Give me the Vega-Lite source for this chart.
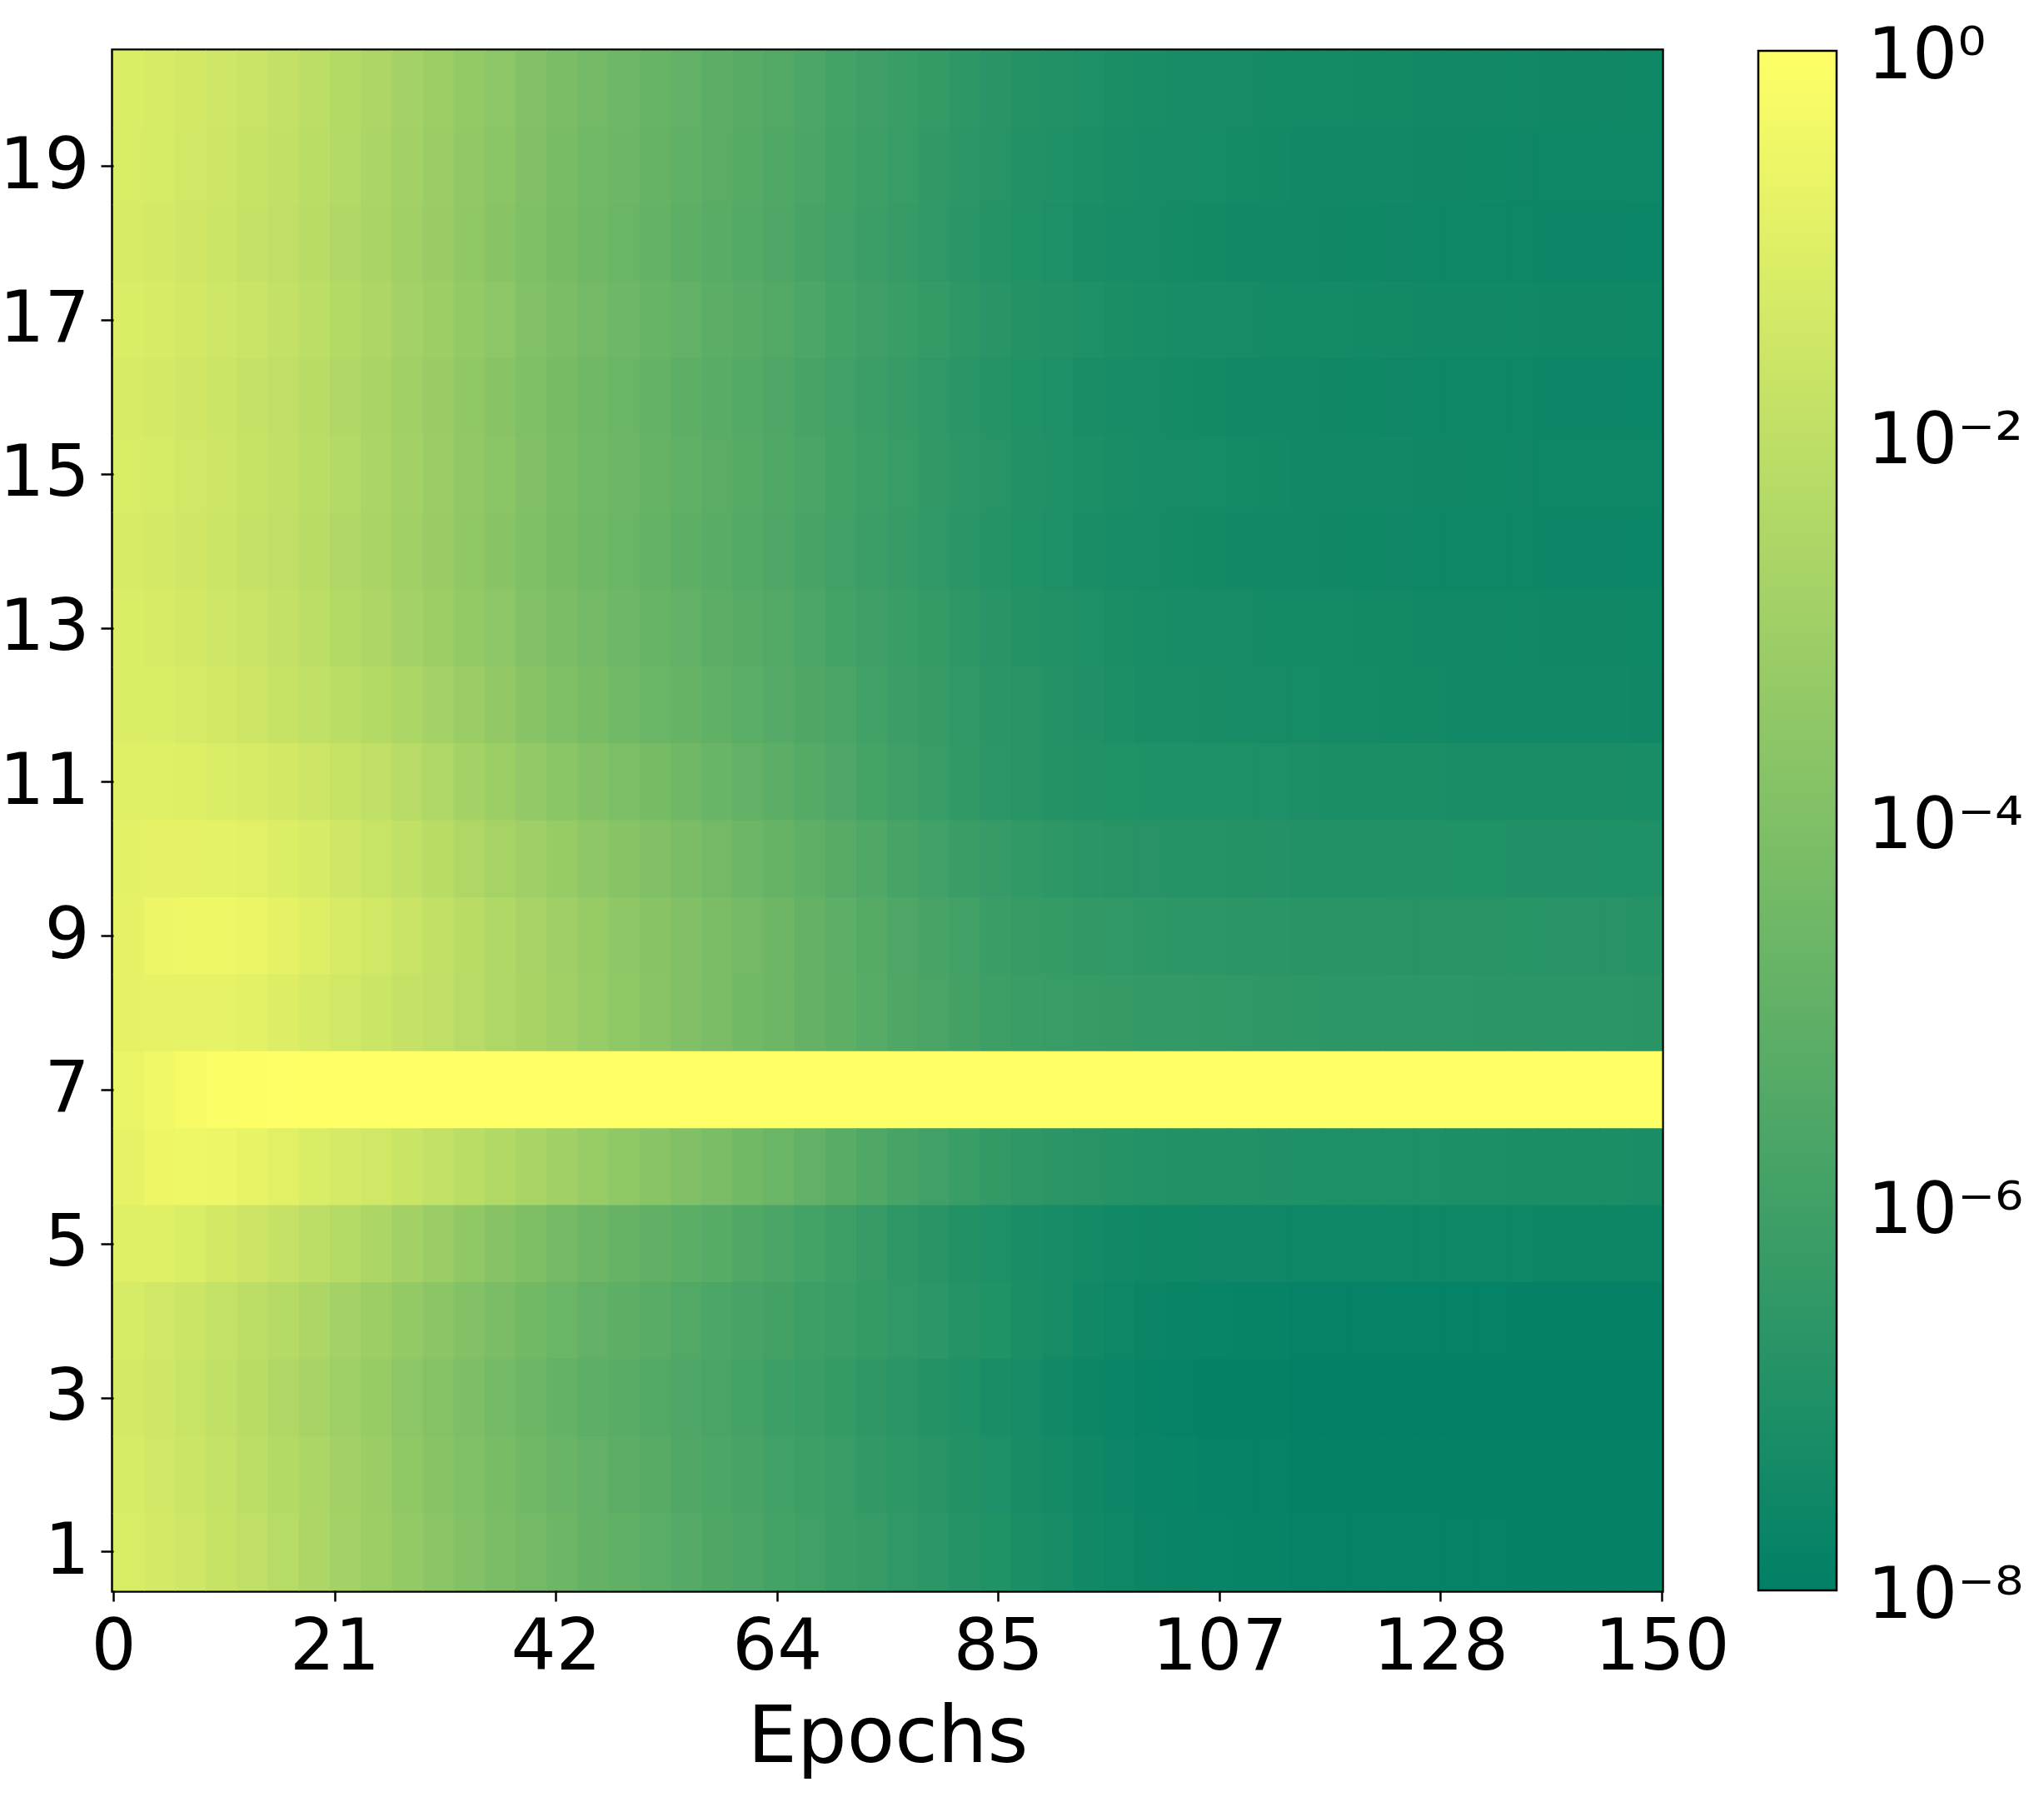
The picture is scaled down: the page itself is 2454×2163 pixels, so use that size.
{
"$schema": "https://vega.github.io/schema/vega-lite/v6.json",
"autosize": {"type": "none"},
"padding": {"left": 136, "top": 61, "right": 459, "bottom": 254},
"width": 1859,
"height": 1848,
"background": "white",
"config": {"font": "DejaVu Sans", "view": {"stroke": "#000", "strokeWidth": 5.5}},
"datasets": {"loss": [
{"c":20,"e":0,"v":-1.14},{"c":20,"e":3,"v":-1.23},{"c":20,"e":6,"v":-1.37},{"c":20,"e":9,"v":-1.52},{"c":20,"e":12,"v":-1.7},{"c":20,"e":15,"v":-1.9},{"c":20,"e":18,"v":-2.11},{"c":20,"e":21,"v":-2.34},{"c":20,"e":24,"v":-2.58},{"c":20,"e":27,"v":-2.82},{"c":20,"e":30,"v":-3.08},{"c":20,"e":33,"v":-3.35},{"c":20,"e":36,"v":-3.62},{"c":20,"e":39,"v":-3.89},{"c":20,"e":42,"v":-4.16},{"c":20,"e":45,"v":-4.38},{"c":20,"e":48,"v":-4.56},{"c":20,"e":51,"v":-4.74},{"c":20,"e":54,"v":-4.92},{"c":20,"e":57,"v":-5.1},{"c":20,"e":60,"v":-5.28},{"c":20,"e":63,"v":-5.44},{"c":20,"e":66,"v":-5.63},{"c":20,"e":69,"v":-5.84},{"c":20,"e":72,"v":-6.02},{"c":20,"e":75,"v":-6.2},{"c":20,"e":78,"v":-6.38},{"c":20,"e":81,"v":-6.55},{"c":20,"e":84,"v":-6.7},{"c":20,"e":87,"v":-6.84},{"c":20,"e":90,"v":-6.94},{"c":20,"e":93,"v":-7.03},{"c":20,"e":96,"v":-7.12},{"c":20,"e":99,"v":-7.2},{"c":20,"e":102,"v":-7.24},{"c":20,"e":105,"v":-7.27},{"c":20,"e":108,"v":-7.31},{"c":20,"e":111,"v":-7.34},{"c":20,"e":114,"v":-7.36},{"c":20,"e":117,"v":-7.38},{"c":20,"e":120,"v":-7.4},{"c":20,"e":123,"v":-7.41},{"c":20,"e":126,"v":-7.43},{"c":20,"e":129,"v":-7.44},{"c":20,"e":132,"v":-7.46},{"c":20,"e":135,"v":-7.47},{"c":20,"e":138,"v":-7.49},{"c":20,"e":141,"v":-7.5},{"c":20,"e":144,"v":-7.51},{"c":20,"e":147,"v":-7.52},
{"c":19,"e":0,"v":-1.2},{"c":19,"e":3,"v":-1.29},{"c":19,"e":6,"v":-1.43},{"c":19,"e":9,"v":-1.58},{"c":19,"e":12,"v":-1.76},{"c":19,"e":15,"v":-1.96},{"c":19,"e":18,"v":-2.17},{"c":19,"e":21,"v":-2.4},{"c":19,"e":24,"v":-2.64},{"c":19,"e":27,"v":-2.88},{"c":19,"e":30,"v":-3.14},{"c":19,"e":33,"v":-3.41},{"c":19,"e":36,"v":-3.68},{"c":19,"e":39,"v":-3.95},{"c":19,"e":42,"v":-4.22},{"c":19,"e":45,"v":-4.44},{"c":19,"e":48,"v":-4.62},{"c":19,"e":51,"v":-4.8},{"c":19,"e":54,"v":-4.98},{"c":19,"e":57,"v":-5.16},{"c":19,"e":60,"v":-5.34},{"c":19,"e":63,"v":-5.5},{"c":19,"e":66,"v":-5.69},{"c":19,"e":69,"v":-5.9},{"c":19,"e":72,"v":-6.08},{"c":19,"e":75,"v":-6.26},{"c":19,"e":78,"v":-6.44},{"c":19,"e":81,"v":-6.61},{"c":19,"e":84,"v":-6.76},{"c":19,"e":87,"v":-6.9},{"c":19,"e":90,"v":-7.0},{"c":19,"e":93,"v":-7.09},{"c":19,"e":96,"v":-7.18},{"c":19,"e":99,"v":-7.26},{"c":19,"e":102,"v":-7.3},{"c":19,"e":105,"v":-7.33},{"c":19,"e":108,"v":-7.37},{"c":19,"e":111,"v":-7.4},{"c":19,"e":114,"v":-7.42},{"c":19,"e":117,"v":-7.44},{"c":19,"e":120,"v":-7.46},{"c":19,"e":123,"v":-7.47},{"c":19,"e":126,"v":-7.49},{"c":19,"e":129,"v":-7.5},{"c":19,"e":132,"v":-7.52},{"c":19,"e":135,"v":-7.53},{"c":19,"e":138,"v":-7.55},{"c":19,"e":141,"v":-7.56},{"c":19,"e":144,"v":-7.57},{"c":19,"e":147,"v":-7.58},
{"c":18,"e":0,"v":-1.26},{"c":18,"e":3,"v":-1.35},{"c":18,"e":6,"v":-1.49},{"c":18,"e":9,"v":-1.64},{"c":18,"e":12,"v":-1.82},{"c":18,"e":15,"v":-2.02},{"c":18,"e":18,"v":-2.23},{"c":18,"e":21,"v":-2.46},{"c":18,"e":24,"v":-2.7},{"c":18,"e":27,"v":-2.94},{"c":18,"e":30,"v":-3.2},{"c":18,"e":33,"v":-3.47},{"c":18,"e":36,"v":-3.74},{"c":18,"e":39,"v":-4.01},{"c":18,"e":42,"v":-4.28},{"c":18,"e":45,"v":-4.5},{"c":18,"e":48,"v":-4.68},{"c":18,"e":51,"v":-4.86},{"c":18,"e":54,"v":-5.04},{"c":18,"e":57,"v":-5.22},{"c":18,"e":60,"v":-5.4},{"c":18,"e":63,"v":-5.56},{"c":18,"e":66,"v":-5.75},{"c":18,"e":69,"v":-5.96},{"c":18,"e":72,"v":-6.14},{"c":18,"e":75,"v":-6.32},{"c":18,"e":78,"v":-6.5},{"c":18,"e":81,"v":-6.67},{"c":18,"e":84,"v":-6.82},{"c":18,"e":87,"v":-6.96},{"c":18,"e":90,"v":-7.06},{"c":18,"e":93,"v":-7.15},{"c":18,"e":96,"v":-7.24},{"c":18,"e":99,"v":-7.32},{"c":18,"e":102,"v":-7.36},{"c":18,"e":105,"v":-7.39},{"c":18,"e":108,"v":-7.43},{"c":18,"e":111,"v":-7.46},{"c":18,"e":114,"v":-7.48},{"c":18,"e":117,"v":-7.5},{"c":18,"e":120,"v":-7.52},{"c":18,"e":123,"v":-7.53},{"c":18,"e":126,"v":-7.55},{"c":18,"e":129,"v":-7.56},{"c":18,"e":132,"v":-7.58},{"c":18,"e":135,"v":-7.59},{"c":18,"e":138,"v":-7.61},{"c":18,"e":141,"v":-7.62},{"c":18,"e":144,"v":-7.63},{"c":18,"e":147,"v":-7.64},
{"c":17,"e":0,"v":-1.14},{"c":17,"e":3,"v":-1.23},{"c":17,"e":6,"v":-1.37},{"c":17,"e":9,"v":-1.52},{"c":17,"e":12,"v":-1.7},{"c":17,"e":15,"v":-1.9},{"c":17,"e":18,"v":-2.11},{"c":17,"e":21,"v":-2.34},{"c":17,"e":24,"v":-2.58},{"c":17,"e":27,"v":-2.82},{"c":17,"e":30,"v":-3.08},{"c":17,"e":33,"v":-3.35},{"c":17,"e":36,"v":-3.62},{"c":17,"e":39,"v":-3.89},{"c":17,"e":42,"v":-4.16},{"c":17,"e":45,"v":-4.38},{"c":17,"e":48,"v":-4.56},{"c":17,"e":51,"v":-4.74},{"c":17,"e":54,"v":-4.92},{"c":17,"e":57,"v":-5.1},{"c":17,"e":60,"v":-5.28},{"c":17,"e":63,"v":-5.44},{"c":17,"e":66,"v":-5.63},{"c":17,"e":69,"v":-5.84},{"c":17,"e":72,"v":-6.02},{"c":17,"e":75,"v":-6.2},{"c":17,"e":78,"v":-6.38},{"c":17,"e":81,"v":-6.55},{"c":17,"e":84,"v":-6.7},{"c":17,"e":87,"v":-6.84},{"c":17,"e":90,"v":-6.94},{"c":17,"e":93,"v":-7.03},{"c":17,"e":96,"v":-7.12},{"c":17,"e":99,"v":-7.2},{"c":17,"e":102,"v":-7.24},{"c":17,"e":105,"v":-7.27},{"c":17,"e":108,"v":-7.31},{"c":17,"e":111,"v":-7.34},{"c":17,"e":114,"v":-7.36},{"c":17,"e":117,"v":-7.38},{"c":17,"e":120,"v":-7.4},{"c":17,"e":123,"v":-7.41},{"c":17,"e":126,"v":-7.43},{"c":17,"e":129,"v":-7.44},{"c":17,"e":132,"v":-7.46},{"c":17,"e":135,"v":-7.47},{"c":17,"e":138,"v":-7.49},{"c":17,"e":141,"v":-7.5},{"c":17,"e":144,"v":-7.51},{"c":17,"e":147,"v":-7.52},
{"c":16,"e":0,"v":-1.26},{"c":16,"e":3,"v":-1.35},{"c":16,"e":6,"v":-1.49},{"c":16,"e":9,"v":-1.64},{"c":16,"e":12,"v":-1.82},{"c":16,"e":15,"v":-2.02},{"c":16,"e":18,"v":-2.23},{"c":16,"e":21,"v":-2.46},{"c":16,"e":24,"v":-2.7},{"c":16,"e":27,"v":-2.94},{"c":16,"e":30,"v":-3.2},{"c":16,"e":33,"v":-3.47},{"c":16,"e":36,"v":-3.74},{"c":16,"e":39,"v":-4.01},{"c":16,"e":42,"v":-4.28},{"c":16,"e":45,"v":-4.5},{"c":16,"e":48,"v":-4.68},{"c":16,"e":51,"v":-4.86},{"c":16,"e":54,"v":-5.04},{"c":16,"e":57,"v":-5.22},{"c":16,"e":60,"v":-5.4},{"c":16,"e":63,"v":-5.56},{"c":16,"e":66,"v":-5.75},{"c":16,"e":69,"v":-5.96},{"c":16,"e":72,"v":-6.14},{"c":16,"e":75,"v":-6.32},{"c":16,"e":78,"v":-6.5},{"c":16,"e":81,"v":-6.67},{"c":16,"e":84,"v":-6.82},{"c":16,"e":87,"v":-6.96},{"c":16,"e":90,"v":-7.06},{"c":16,"e":93,"v":-7.15},{"c":16,"e":96,"v":-7.24},{"c":16,"e":99,"v":-7.32},{"c":16,"e":102,"v":-7.36},{"c":16,"e":105,"v":-7.39},{"c":16,"e":108,"v":-7.43},{"c":16,"e":111,"v":-7.46},{"c":16,"e":114,"v":-7.48},{"c":16,"e":117,"v":-7.5},{"c":16,"e":120,"v":-7.52},{"c":16,"e":123,"v":-7.53},{"c":16,"e":126,"v":-7.55},{"c":16,"e":129,"v":-7.56},{"c":16,"e":132,"v":-7.58},{"c":16,"e":135,"v":-7.59},{"c":16,"e":138,"v":-7.61},{"c":16,"e":141,"v":-7.62},{"c":16,"e":144,"v":-7.63},{"c":16,"e":147,"v":-7.64},
{"c":15,"e":0,"v":-1.2},{"c":15,"e":3,"v":-1.29},{"c":15,"e":6,"v":-1.43},{"c":15,"e":9,"v":-1.58},{"c":15,"e":12,"v":-1.76},{"c":15,"e":15,"v":-1.96},{"c":15,"e":18,"v":-2.17},{"c":15,"e":21,"v":-2.4},{"c":15,"e":24,"v":-2.64},{"c":15,"e":27,"v":-2.88},{"c":15,"e":30,"v":-3.14},{"c":15,"e":33,"v":-3.41},{"c":15,"e":36,"v":-3.68},{"c":15,"e":39,"v":-3.95},{"c":15,"e":42,"v":-4.22},{"c":15,"e":45,"v":-4.44},{"c":15,"e":48,"v":-4.62},{"c":15,"e":51,"v":-4.8},{"c":15,"e":54,"v":-4.98},{"c":15,"e":57,"v":-5.16},{"c":15,"e":60,"v":-5.34},{"c":15,"e":63,"v":-5.5},{"c":15,"e":66,"v":-5.69},{"c":15,"e":69,"v":-5.9},{"c":15,"e":72,"v":-6.08},{"c":15,"e":75,"v":-6.26},{"c":15,"e":78,"v":-6.44},{"c":15,"e":81,"v":-6.61},{"c":15,"e":84,"v":-6.76},{"c":15,"e":87,"v":-6.9},{"c":15,"e":90,"v":-7.0},{"c":15,"e":93,"v":-7.09},{"c":15,"e":96,"v":-7.18},{"c":15,"e":99,"v":-7.26},{"c":15,"e":102,"v":-7.3},{"c":15,"e":105,"v":-7.33},{"c":15,"e":108,"v":-7.37},{"c":15,"e":111,"v":-7.4},{"c":15,"e":114,"v":-7.42},{"c":15,"e":117,"v":-7.44},{"c":15,"e":120,"v":-7.46},{"c":15,"e":123,"v":-7.47},{"c":15,"e":126,"v":-7.49},{"c":15,"e":129,"v":-7.5},{"c":15,"e":132,"v":-7.52},{"c":15,"e":135,"v":-7.53},{"c":15,"e":138,"v":-7.55},{"c":15,"e":141,"v":-7.56},{"c":15,"e":144,"v":-7.57},{"c":15,"e":147,"v":-7.58},
{"c":14,"e":0,"v":-1.26},{"c":14,"e":3,"v":-1.35},{"c":14,"e":6,"v":-1.49},{"c":14,"e":9,"v":-1.64},{"c":14,"e":12,"v":-1.82},{"c":14,"e":15,"v":-2.02},{"c":14,"e":18,"v":-2.23},{"c":14,"e":21,"v":-2.46},{"c":14,"e":24,"v":-2.7},{"c":14,"e":27,"v":-2.94},{"c":14,"e":30,"v":-3.2},{"c":14,"e":33,"v":-3.47},{"c":14,"e":36,"v":-3.74},{"c":14,"e":39,"v":-4.01},{"c":14,"e":42,"v":-4.28},{"c":14,"e":45,"v":-4.5},{"c":14,"e":48,"v":-4.68},{"c":14,"e":51,"v":-4.86},{"c":14,"e":54,"v":-5.04},{"c":14,"e":57,"v":-5.22},{"c":14,"e":60,"v":-5.4},{"c":14,"e":63,"v":-5.56},{"c":14,"e":66,"v":-5.75},{"c":14,"e":69,"v":-5.96},{"c":14,"e":72,"v":-6.14},{"c":14,"e":75,"v":-6.32},{"c":14,"e":78,"v":-6.5},{"c":14,"e":81,"v":-6.67},{"c":14,"e":84,"v":-6.82},{"c":14,"e":87,"v":-6.96},{"c":14,"e":90,"v":-7.06},{"c":14,"e":93,"v":-7.15},{"c":14,"e":96,"v":-7.24},{"c":14,"e":99,"v":-7.32},{"c":14,"e":102,"v":-7.36},{"c":14,"e":105,"v":-7.39},{"c":14,"e":108,"v":-7.43},{"c":14,"e":111,"v":-7.46},{"c":14,"e":114,"v":-7.48},{"c":14,"e":117,"v":-7.5},{"c":14,"e":120,"v":-7.52},{"c":14,"e":123,"v":-7.53},{"c":14,"e":126,"v":-7.55},{"c":14,"e":129,"v":-7.56},{"c":14,"e":132,"v":-7.58},{"c":14,"e":135,"v":-7.59},{"c":14,"e":138,"v":-7.61},{"c":14,"e":141,"v":-7.62},{"c":14,"e":144,"v":-7.63},{"c":14,"e":147,"v":-7.64},
{"c":13,"e":0,"v":-1.14},{"c":13,"e":3,"v":-1.23},{"c":13,"e":6,"v":-1.37},{"c":13,"e":9,"v":-1.52},{"c":13,"e":12,"v":-1.7},{"c":13,"e":15,"v":-1.9},{"c":13,"e":18,"v":-2.11},{"c":13,"e":21,"v":-2.34},{"c":13,"e":24,"v":-2.58},{"c":13,"e":27,"v":-2.82},{"c":13,"e":30,"v":-3.08},{"c":13,"e":33,"v":-3.35},{"c":13,"e":36,"v":-3.62},{"c":13,"e":39,"v":-3.89},{"c":13,"e":42,"v":-4.16},{"c":13,"e":45,"v":-4.38},{"c":13,"e":48,"v":-4.56},{"c":13,"e":51,"v":-4.74},{"c":13,"e":54,"v":-4.92},{"c":13,"e":57,"v":-5.1},{"c":13,"e":60,"v":-5.28},{"c":13,"e":63,"v":-5.44},{"c":13,"e":66,"v":-5.63},{"c":13,"e":69,"v":-5.84},{"c":13,"e":72,"v":-6.02},{"c":13,"e":75,"v":-6.2},{"c":13,"e":78,"v":-6.38},{"c":13,"e":81,"v":-6.55},{"c":13,"e":84,"v":-6.7},{"c":13,"e":87,"v":-6.84},{"c":13,"e":90,"v":-6.94},{"c":13,"e":93,"v":-7.03},{"c":13,"e":96,"v":-7.12},{"c":13,"e":99,"v":-7.2},{"c":13,"e":102,"v":-7.24},{"c":13,"e":105,"v":-7.27},{"c":13,"e":108,"v":-7.31},{"c":13,"e":111,"v":-7.34},{"c":13,"e":114,"v":-7.36},{"c":13,"e":117,"v":-7.38},{"c":13,"e":120,"v":-7.4},{"c":13,"e":123,"v":-7.41},{"c":13,"e":126,"v":-7.43},{"c":13,"e":129,"v":-7.44},{"c":13,"e":132,"v":-7.46},{"c":13,"e":135,"v":-7.47},{"c":13,"e":138,"v":-7.49},{"c":13,"e":141,"v":-7.5},{"c":13,"e":144,"v":-7.51},{"c":13,"e":147,"v":-7.52},
{"c":12,"e":0,"v":-1.12},{"c":12,"e":3,"v":-1.15},{"c":12,"e":6,"v":-1.25},{"c":12,"e":9,"v":-1.38},{"c":12,"e":12,"v":-1.56},{"c":12,"e":15,"v":-1.75},{"c":12,"e":18,"v":-1.95},{"c":12,"e":21,"v":-2.15},{"c":12,"e":24,"v":-2.36},{"c":12,"e":27,"v":-2.59},{"c":12,"e":30,"v":-2.84},{"c":12,"e":33,"v":-3.13},{"c":12,"e":36,"v":-3.43},{"c":12,"e":39,"v":-3.72},{"c":12,"e":42,"v":-4.01},{"c":12,"e":45,"v":-4.25},{"c":12,"e":48,"v":-4.44},{"c":12,"e":51,"v":-4.63},{"c":12,"e":54,"v":-4.81},{"c":12,"e":57,"v":-5.0},{"c":12,"e":60,"v":-5.19},{"c":12,"e":63,"v":-5.35},{"c":12,"e":66,"v":-5.53},{"c":12,"e":69,"v":-5.72},{"c":12,"e":72,"v":-5.92},{"c":12,"e":75,"v":-6.12},{"c":12,"e":78,"v":-6.32},{"c":12,"e":81,"v":-6.5},{"c":12,"e":84,"v":-6.65},{"c":12,"e":87,"v":-6.76},{"c":12,"e":90,"v":-6.86},{"c":12,"e":93,"v":-6.98},{"c":12,"e":96,"v":-7.08},{"c":12,"e":99,"v":-7.16},{"c":12,"e":102,"v":-7.19},{"c":12,"e":105,"v":-7.23},{"c":12,"e":108,"v":-7.26},{"c":12,"e":111,"v":-7.3},{"c":12,"e":114,"v":-7.33},{"c":12,"e":117,"v":-7.36},{"c":12,"e":120,"v":-7.38},{"c":12,"e":123,"v":-7.39},{"c":12,"e":126,"v":-7.41},{"c":12,"e":129,"v":-7.42},{"c":12,"e":132,"v":-7.43},{"c":12,"e":135,"v":-7.45},{"c":12,"e":138,"v":-7.46},{"c":12,"e":141,"v":-7.47},{"c":12,"e":144,"v":-7.48},{"c":12,"e":147,"v":-7.49},
{"c":11,"e":0,"v":-0.99},{"c":11,"e":3,"v":-0.96},{"c":11,"e":6,"v":-1.03},{"c":11,"e":9,"v":-1.12},{"c":11,"e":12,"v":-1.24},{"c":11,"e":15,"v":-1.39},{"c":11,"e":18,"v":-1.57},{"c":11,"e":21,"v":-1.79},{"c":11,"e":24,"v":-2.02},{"c":11,"e":27,"v":-2.27},{"c":11,"e":30,"v":-2.54},{"c":11,"e":33,"v":-2.82},{"c":11,"e":36,"v":-3.1},{"c":11,"e":39,"v":-3.38},{"c":11,"e":42,"v":-3.66},{"c":11,"e":45,"v":-3.9},{"c":11,"e":48,"v":-4.1},{"c":11,"e":51,"v":-4.3},{"c":11,"e":54,"v":-4.5},{"c":11,"e":57,"v":-4.7},{"c":11,"e":60,"v":-4.91},{"c":11,"e":63,"v":-5.11},{"c":11,"e":66,"v":-5.33},{"c":11,"e":69,"v":-5.56},{"c":11,"e":72,"v":-5.8},{"c":11,"e":75,"v":-6.03},{"c":11,"e":78,"v":-6.25},{"c":11,"e":81,"v":-6.45},{"c":11,"e":84,"v":-6.62},{"c":11,"e":87,"v":-6.75},{"c":11,"e":90,"v":-6.84},{"c":11,"e":93,"v":-6.91},{"c":11,"e":96,"v":-6.96},{"c":11,"e":99,"v":-7.0},{"c":11,"e":102,"v":-7.01},{"c":11,"e":105,"v":-7.02},{"c":11,"e":108,"v":-7.03},{"c":11,"e":111,"v":-7.07},{"c":11,"e":114,"v":-7.1},{"c":11,"e":117,"v":-7.11},{"c":11,"e":120,"v":-7.12},{"c":11,"e":123,"v":-7.13},{"c":11,"e":126,"v":-7.14},{"c":11,"e":129,"v":-7.15},{"c":11,"e":132,"v":-7.16},{"c":11,"e":135,"v":-7.17},{"c":11,"e":138,"v":-7.18},{"c":11,"e":141,"v":-7.18},{"c":11,"e":144,"v":-7.19},{"c":11,"e":147,"v":-7.2},
{"c":10,"e":0,"v":-0.87},{"c":10,"e":3,"v":-0.81},{"c":10,"e":6,"v":-0.81},{"c":10,"e":9,"v":-0.84},{"c":10,"e":12,"v":-0.95},{"c":10,"e":15,"v":-1.09},{"c":10,"e":18,"v":-1.27},{"c":10,"e":21,"v":-1.49},{"c":10,"e":24,"v":-1.72},{"c":10,"e":27,"v":-1.97},{"c":10,"e":30,"v":-2.23},{"c":10,"e":33,"v":-2.49},{"c":10,"e":36,"v":-2.75},{"c":10,"e":39,"v":-3.01},{"c":10,"e":42,"v":-3.27},{"c":10,"e":45,"v":-3.51},{"c":10,"e":48,"v":-3.73},{"c":10,"e":51,"v":-3.95},{"c":10,"e":54,"v":-4.17},{"c":10,"e":57,"v":-4.39},{"c":10,"e":60,"v":-4.61},{"c":10,"e":63,"v":-4.81},{"c":10,"e":66,"v":-5.03},{"c":10,"e":69,"v":-5.26},{"c":10,"e":72,"v":-5.5},{"c":10,"e":75,"v":-5.73},{"c":10,"e":78,"v":-5.95},{"c":10,"e":81,"v":-6.15},{"c":10,"e":84,"v":-6.32},{"c":10,"e":87,"v":-6.45},{"c":10,"e":90,"v":-6.55},{"c":10,"e":93,"v":-6.65},{"c":10,"e":96,"v":-6.73},{"c":10,"e":99,"v":-6.79},{"c":10,"e":102,"v":-6.8},{"c":10,"e":105,"v":-6.82},{"c":10,"e":108,"v":-6.84},{"c":10,"e":111,"v":-6.88},{"c":10,"e":114,"v":-6.9},{"c":10,"e":117,"v":-6.91},{"c":10,"e":120,"v":-6.92},{"c":10,"e":123,"v":-6.93},{"c":10,"e":126,"v":-6.94},{"c":10,"e":129,"v":-6.95},{"c":10,"e":132,"v":-6.96},{"c":10,"e":135,"v":-6.97},{"c":10,"e":138,"v":-6.98},{"c":10,"e":141,"v":-6.98},{"c":10,"e":144,"v":-6.99},{"c":10,"e":147,"v":-7.0},
{"c":9,"e":0,"v":-0.8},{"c":9,"e":3,"v":-0.59},{"c":9,"e":6,"v":-0.53},{"c":9,"e":9,"v":-0.52},{"c":9,"e":12,"v":-0.64},{"c":9,"e":15,"v":-0.81},{"c":9,"e":18,"v":-1.02},{"c":9,"e":21,"v":-1.23},{"c":9,"e":24,"v":-1.44},{"c":9,"e":27,"v":-1.68},{"c":9,"e":30,"v":-1.94},{"c":9,"e":33,"v":-2.21},{"c":9,"e":36,"v":-2.48},{"c":9,"e":39,"v":-2.75},{"c":9,"e":42,"v":-3.02},{"c":9,"e":45,"v":-3.27},{"c":9,"e":48,"v":-3.51},{"c":9,"e":51,"v":-3.73},{"c":9,"e":54,"v":-3.94},{"c":9,"e":57,"v":-4.15},{"c":9,"e":60,"v":-4.38},{"c":9,"e":63,"v":-4.61},{"c":9,"e":66,"v":-4.84},{"c":9,"e":69,"v":-5.08},{"c":9,"e":72,"v":-5.32},{"c":9,"e":75,"v":-5.55},{"c":9,"e":78,"v":-5.78},{"c":9,"e":81,"v":-5.99},{"c":9,"e":84,"v":-6.16},{"c":9,"e":87,"v":-6.28},{"c":9,"e":90,"v":-6.36},{"c":9,"e":93,"v":-6.44},{"c":9,"e":96,"v":-6.5},{"c":9,"e":99,"v":-6.57},{"c":9,"e":102,"v":-6.59},{"c":9,"e":105,"v":-6.62},{"c":9,"e":108,"v":-6.65},{"c":9,"e":111,"v":-6.68},{"c":9,"e":114,"v":-6.7},{"c":9,"e":117,"v":-6.71},{"c":9,"e":120,"v":-6.72},{"c":9,"e":123,"v":-6.73},{"c":9,"e":126,"v":-6.74},{"c":9,"e":129,"v":-6.75},{"c":9,"e":132,"v":-6.76},{"c":9,"e":135,"v":-6.77},{"c":9,"e":138,"v":-6.78},{"c":9,"e":141,"v":-6.78},{"c":9,"e":144,"v":-6.79},{"c":9,"e":147,"v":-6.8},
{"c":8,"e":0,"v":-0.82},{"c":8,"e":3,"v":-0.76},{"c":8,"e":6,"v":-0.75},{"c":8,"e":9,"v":-0.77},{"c":8,"e":12,"v":-0.91},{"c":8,"e":15,"v":-1.08},{"c":8,"e":18,"v":-1.27},{"c":8,"e":21,"v":-1.45},{"c":8,"e":24,"v":-1.63},{"c":8,"e":27,"v":-1.81},{"c":8,"e":30,"v":-2.02},{"c":8,"e":33,"v":-2.26},{"c":8,"e":36,"v":-2.5},{"c":8,"e":39,"v":-2.74},{"c":8,"e":42,"v":-2.98},{"c":8,"e":45,"v":-3.22},{"c":8,"e":48,"v":-3.46},{"c":8,"e":51,"v":-3.7},{"c":8,"e":54,"v":-3.94},{"c":8,"e":57,"v":-4.18},{"c":8,"e":60,"v":-4.41},{"c":8,"e":63,"v":-4.61},{"c":8,"e":66,"v":-4.83},{"c":8,"e":69,"v":-5.06},{"c":8,"e":72,"v":-5.3},{"c":8,"e":75,"v":-5.52},{"c":8,"e":78,"v":-5.72},{"c":8,"e":81,"v":-5.9},{"c":8,"e":84,"v":-6.05},{"c":8,"e":87,"v":-6.16},{"c":8,"e":90,"v":-6.23},{"c":8,"e":93,"v":-6.29},{"c":8,"e":96,"v":-6.34},{"c":8,"e":99,"v":-6.4},{"c":8,"e":102,"v":-6.41},{"c":8,"e":105,"v":-6.45},{"c":8,"e":108,"v":-6.49},{"c":8,"e":111,"v":-6.53},{"c":8,"e":114,"v":-6.56},{"c":8,"e":117,"v":-6.59},{"c":8,"e":120,"v":-6.61},{"c":8,"e":123,"v":-6.62},{"c":8,"e":126,"v":-6.63},{"c":8,"e":129,"v":-6.64},{"c":8,"e":132,"v":-6.65},{"c":8,"e":135,"v":-6.66},{"c":8,"e":138,"v":-6.67},{"c":8,"e":141,"v":-6.68},{"c":8,"e":144,"v":-6.69},{"c":8,"e":147,"v":-6.7},
{"c":7,"e":0,"v":-0.7},{"c":7,"e":3,"v":-0.45},{"c":7,"e":6,"v":-0.28},{"c":7,"e":9,"v":-0.15},{"c":7,"e":12,"v":-0.07},{"c":7,"e":15,"v":-0.02},{"c":7,"e":18,"v":0},{"c":7,"e":21,"v":0},{"c":7,"e":24,"v":0},{"c":7,"e":27,"v":0},{"c":7,"e":30,"v":0},{"c":7,"e":33,"v":0},{"c":7,"e":36,"v":0},{"c":7,"e":39,"v":0},{"c":7,"e":42,"v":0},{"c":7,"e":45,"v":0},{"c":7,"e":48,"v":0},{"c":7,"e":51,"v":0},{"c":7,"e":54,"v":0},{"c":7,"e":57,"v":0},{"c":7,"e":60,"v":0},{"c":7,"e":63,"v":0},{"c":7,"e":66,"v":0},{"c":7,"e":69,"v":0},{"c":7,"e":72,"v":0},{"c":7,"e":75,"v":0},{"c":7,"e":78,"v":0},{"c":7,"e":81,"v":0},{"c":7,"e":84,"v":0},{"c":7,"e":87,"v":0},{"c":7,"e":90,"v":0},{"c":7,"e":93,"v":0},{"c":7,"e":96,"v":0},{"c":7,"e":99,"v":0},{"c":7,"e":102,"v":0},{"c":7,"e":105,"v":0},{"c":7,"e":108,"v":0},{"c":7,"e":111,"v":0},{"c":7,"e":114,"v":0},{"c":7,"e":117,"v":0},{"c":7,"e":120,"v":0},{"c":7,"e":123,"v":0},{"c":7,"e":126,"v":0},{"c":7,"e":129,"v":0},{"c":7,"e":132,"v":0},{"c":7,"e":135,"v":0},{"c":7,"e":138,"v":0},{"c":7,"e":141,"v":0},{"c":7,"e":144,"v":0},{"c":7,"e":147,"v":0},
{"c":6,"e":0,"v":-0.75},{"c":6,"e":3,"v":-0.54},{"c":6,"e":6,"v":-0.53},{"c":6,"e":9,"v":-0.58},{"c":6,"e":12,"v":-0.73},{"c":6,"e":15,"v":-0.92},{"c":6,"e":18,"v":-1.16},{"c":6,"e":21,"v":-1.33},{"c":6,"e":24,"v":-1.48},{"c":6,"e":27,"v":-1.66},{"c":6,"e":30,"v":-1.89},{"c":6,"e":33,"v":-2.16},{"c":6,"e":36,"v":-2.43},{"c":6,"e":39,"v":-2.7},{"c":6,"e":42,"v":-2.97},{"c":6,"e":45,"v":-3.22},{"c":6,"e":48,"v":-3.46},{"c":6,"e":51,"v":-3.7},{"c":6,"e":54,"v":-3.94},{"c":6,"e":57,"v":-4.18},{"c":6,"e":60,"v":-4.43},{"c":6,"e":63,"v":-4.67},{"c":6,"e":66,"v":-4.93},{"c":6,"e":69,"v":-5.2},{"c":6,"e":72,"v":-5.48},{"c":6,"e":75,"v":-5.74},{"c":6,"e":78,"v":-5.98},{"c":6,"e":81,"v":-6.2},{"c":6,"e":84,"v":-6.39},{"c":6,"e":87,"v":-6.54},{"c":6,"e":90,"v":-6.65},{"c":6,"e":93,"v":-6.74},{"c":6,"e":96,"v":-6.82},{"c":6,"e":99,"v":-6.89},{"c":6,"e":102,"v":-6.9},{"c":6,"e":105,"v":-6.92},{"c":6,"e":108,"v":-6.94},{"c":6,"e":111,"v":-6.98},{"c":6,"e":114,"v":-7.0},{"c":6,"e":117,"v":-7.02},{"c":6,"e":120,"v":-7.04},{"c":6,"e":123,"v":-7.05},{"c":6,"e":126,"v":-7.07},{"c":6,"e":129,"v":-7.08},{"c":6,"e":132,"v":-7.09},{"c":6,"e":135,"v":-7.11},{"c":6,"e":138,"v":-7.12},{"c":6,"e":141,"v":-7.13},{"c":6,"e":144,"v":-7.14},{"c":6,"e":147,"v":-7.15},
{"c":5,"e":0,"v":-0.99},{"c":5,"e":3,"v":-0.97},{"c":5,"e":6,"v":-1.16},{"c":5,"e":9,"v":-1.39},{"c":5,"e":12,"v":-1.61},{"c":5,"e":15,"v":-1.83},{"c":5,"e":18,"v":-2.06},{"c":5,"e":21,"v":-2.33},{"c":5,"e":24,"v":-2.6},{"c":5,"e":27,"v":-2.87},{"c":5,"e":30,"v":-3.15},{"c":5,"e":33,"v":-3.45},{"c":5,"e":36,"v":-3.75},{"c":5,"e":39,"v":-4.05},{"c":5,"e":42,"v":-4.35},{"c":5,"e":45,"v":-4.59},{"c":5,"e":48,"v":-4.77},{"c":5,"e":51,"v":-4.95},{"c":5,"e":54,"v":-5.13},{"c":5,"e":57,"v":-5.31},{"c":5,"e":60,"v":-5.5},{"c":5,"e":63,"v":-5.68},{"c":5,"e":66,"v":-5.88},{"c":5,"e":69,"v":-6.09},{"c":5,"e":72,"v":-6.31},{"c":5,"e":75,"v":-6.52},{"c":5,"e":78,"v":-6.72},{"c":5,"e":81,"v":-6.9},{"c":5,"e":84,"v":-7.05},{"c":5,"e":87,"v":-7.16},{"c":5,"e":90,"v":-7.26},{"c":5,"e":93,"v":-7.38},{"c":5,"e":96,"v":-7.46},{"c":5,"e":99,"v":-7.5},{"c":5,"e":102,"v":-7.52},{"c":5,"e":105,"v":-7.53},{"c":5,"e":108,"v":-7.53},{"c":5,"e":111,"v":-7.54},{"c":5,"e":114,"v":-7.55},{"c":5,"e":117,"v":-7.56},{"c":5,"e":120,"v":-7.57},{"c":5,"e":123,"v":-7.57},{"c":5,"e":126,"v":-7.58},{"c":5,"e":129,"v":-7.58},{"c":5,"e":132,"v":-7.59},{"c":5,"e":135,"v":-7.59},{"c":5,"e":138,"v":-7.6},{"c":5,"e":141,"v":-7.6},{"c":5,"e":144,"v":-7.6},{"c":5,"e":147,"v":-7.6},
{"c":4,"e":0,"v":-1.28},{"c":4,"e":3,"v":-1.43},{"c":4,"e":6,"v":-1.63},{"c":4,"e":9,"v":-1.84},{"c":4,"e":12,"v":-2.08},{"c":4,"e":15,"v":-2.32},{"c":4,"e":18,"v":-2.56},{"c":4,"e":21,"v":-2.83},{"c":4,"e":24,"v":-3.1},{"c":4,"e":27,"v":-3.37},{"c":4,"e":30,"v":-3.63},{"c":4,"e":33,"v":-3.9},{"c":4,"e":36,"v":-4.15},{"c":4,"e":39,"v":-4.41},{"c":4,"e":42,"v":-4.67},{"c":4,"e":45,"v":-4.89},{"c":4,"e":48,"v":-5.07},{"c":4,"e":51,"v":-5.25},{"c":4,"e":54,"v":-5.43},{"c":4,"e":57,"v":-5.61},{"c":4,"e":60,"v":-5.77},{"c":4,"e":63,"v":-5.91},{"c":4,"e":66,"v":-6.05},{"c":4,"e":69,"v":-6.19},{"c":4,"e":72,"v":-6.33},{"c":4,"e":75,"v":-6.48},{"c":4,"e":78,"v":-6.64},{"c":4,"e":81,"v":-6.8},{"c":4,"e":84,"v":-6.96},{"c":4,"e":87,"v":-7.12},{"c":4,"e":90,"v":-7.28},{"c":4,"e":93,"v":-7.43},{"c":4,"e":96,"v":-7.55},{"c":4,"e":99,"v":-7.66},{"c":4,"e":102,"v":-7.71},{"c":4,"e":105,"v":-7.75},{"c":4,"e":108,"v":-7.78},{"c":4,"e":111,"v":-7.79},{"c":4,"e":114,"v":-7.8},{"c":4,"e":117,"v":-7.81},{"c":4,"e":120,"v":-7.82},{"c":4,"e":123,"v":-7.83},{"c":4,"e":126,"v":-7.83},{"c":4,"e":129,"v":-7.84},{"c":4,"e":132,"v":-7.84},{"c":4,"e":135,"v":-7.85},{"c":4,"e":138,"v":-7.85},{"c":4,"e":141,"v":-7.85},{"c":4,"e":144,"v":-7.85},{"c":4,"e":147,"v":-7.85},
{"c":3,"e":0,"v":-1.34},{"c":3,"e":3,"v":-1.52},{"c":3,"e":6,"v":-1.73},{"c":3,"e":9,"v":-1.95},{"c":3,"e":12,"v":-2.22},{"c":3,"e":15,"v":-2.49},{"c":3,"e":18,"v":-2.76},{"c":3,"e":21,"v":-3.03},{"c":3,"e":24,"v":-3.3},{"c":3,"e":27,"v":-3.57},{"c":3,"e":30,"v":-3.83},{"c":3,"e":33,"v":-4.09},{"c":3,"e":36,"v":-4.35},{"c":3,"e":39,"v":-4.61},{"c":3,"e":42,"v":-4.87},{"c":3,"e":45,"v":-5.08},{"c":3,"e":48,"v":-5.24},{"c":3,"e":51,"v":-5.4},{"c":3,"e":54,"v":-5.56},{"c":3,"e":57,"v":-5.72},{"c":3,"e":60,"v":-5.88},{"c":3,"e":63,"v":-6.04},{"c":3,"e":66,"v":-6.2},{"c":3,"e":69,"v":-6.36},{"c":3,"e":72,"v":-6.52},{"c":3,"e":75,"v":-6.68},{"c":3,"e":78,"v":-6.84},{"c":3,"e":81,"v":-7.0},{"c":3,"e":84,"v":-7.16},{"c":3,"e":87,"v":-7.32},{"c":3,"e":90,"v":-7.47},{"c":3,"e":93,"v":-7.6},{"c":3,"e":96,"v":-7.7},{"c":3,"e":99,"v":-7.79},{"c":3,"e":102,"v":-7.83},{"c":3,"e":105,"v":-7.86},{"c":3,"e":108,"v":-7.89},{"c":3,"e":111,"v":-7.9},{"c":3,"e":114,"v":-7.91},{"c":3,"e":117,"v":-7.92},{"c":3,"e":120,"v":-7.93},{"c":3,"e":123,"v":-7.94},{"c":3,"e":126,"v":-7.94},{"c":3,"e":129,"v":-7.95},{"c":3,"e":132,"v":-7.95},{"c":3,"e":135,"v":-7.94},{"c":3,"e":138,"v":-7.94},{"c":3,"e":141,"v":-7.93},{"c":3,"e":144,"v":-7.93},{"c":3,"e":147,"v":-7.92},
{"c":2,"e":0,"v":-1.28},{"c":2,"e":3,"v":-1.45},{"c":2,"e":6,"v":-1.64},{"c":2,"e":9,"v":-1.84},{"c":2,"e":12,"v":-2.09},{"c":2,"e":15,"v":-2.35},{"c":2,"e":18,"v":-2.61},{"c":2,"e":21,"v":-2.89},{"c":2,"e":24,"v":-3.17},{"c":2,"e":27,"v":-3.46},{"c":2,"e":30,"v":-3.73},{"c":2,"e":33,"v":-3.98},{"c":2,"e":36,"v":-4.23},{"c":2,"e":39,"v":-4.47},{"c":2,"e":42,"v":-4.72},{"c":2,"e":45,"v":-4.93},{"c":2,"e":48,"v":-5.1},{"c":2,"e":51,"v":-5.28},{"c":2,"e":54,"v":-5.45},{"c":2,"e":57,"v":-5.62},{"c":2,"e":60,"v":-5.78},{"c":2,"e":63,"v":-5.94},{"c":2,"e":66,"v":-6.1},{"c":2,"e":69,"v":-6.26},{"c":2,"e":72,"v":-6.42},{"c":2,"e":75,"v":-6.58},{"c":2,"e":78,"v":-6.74},{"c":2,"e":81,"v":-6.9},{"c":2,"e":84,"v":-7.06},{"c":2,"e":87,"v":-7.22},{"c":2,"e":90,"v":-7.37},{"c":2,"e":93,"v":-7.5},{"c":2,"e":96,"v":-7.61},{"c":2,"e":99,"v":-7.71},{"c":2,"e":102,"v":-7.76},{"c":2,"e":105,"v":-7.8},{"c":2,"e":108,"v":-7.83},{"c":2,"e":111,"v":-7.84},{"c":2,"e":114,"v":-7.85},{"c":2,"e":117,"v":-7.86},{"c":2,"e":120,"v":-7.87},{"c":2,"e":123,"v":-7.88},{"c":2,"e":126,"v":-7.89},{"c":2,"e":129,"v":-7.9},{"c":2,"e":132,"v":-7.9},{"c":2,"e":135,"v":-7.9},{"c":2,"e":138,"v":-7.9},{"c":2,"e":141,"v":-7.9},{"c":2,"e":144,"v":-7.9},{"c":2,"e":147,"v":-7.9},
{"c":1,"e":0,"v":-1.18},{"c":1,"e":3,"v":-1.35},{"c":1,"e":6,"v":-1.54},{"c":1,"e":9,"v":-1.75},{"c":1,"e":12,"v":-2.02},{"c":1,"e":15,"v":-2.29},{"c":1,"e":18,"v":-2.56},{"c":1,"e":21,"v":-2.83},{"c":1,"e":24,"v":-3.1},{"c":1,"e":27,"v":-3.37},{"c":1,"e":30,"v":-3.63},{"c":1,"e":33,"v":-3.88},{"c":1,"e":36,"v":-4.13},{"c":1,"e":39,"v":-4.37},{"c":1,"e":42,"v":-4.62},{"c":1,"e":45,"v":-4.83},{"c":1,"e":48,"v":-5.0},{"c":1,"e":51,"v":-5.18},{"c":1,"e":54,"v":-5.35},{"c":1,"e":57,"v":-5.52},{"c":1,"e":60,"v":-5.68},{"c":1,"e":63,"v":-5.84},{"c":1,"e":66,"v":-6.0},{"c":1,"e":69,"v":-6.16},{"c":1,"e":72,"v":-6.32},{"c":1,"e":75,"v":-6.48},{"c":1,"e":78,"v":-6.64},{"c":1,"e":81,"v":-6.8},{"c":1,"e":84,"v":-6.96},{"c":1,"e":87,"v":-7.12},{"c":1,"e":90,"v":-7.28},{"c":1,"e":93,"v":-7.43},{"c":1,"e":96,"v":-7.55},{"c":1,"e":99,"v":-7.66},{"c":1,"e":102,"v":-7.71},{"c":1,"e":105,"v":-7.75},{"c":1,"e":108,"v":-7.78},{"c":1,"e":111,"v":-7.79},{"c":1,"e":114,"v":-7.8},{"c":1,"e":117,"v":-7.81},{"c":1,"e":120,"v":-7.82},{"c":1,"e":123,"v":-7.83},{"c":1,"e":126,"v":-7.83},{"c":1,"e":129,"v":-7.84},{"c":1,"e":132,"v":-7.84},{"c":1,"e":135,"v":-7.85},{"c":1,"e":138,"v":-7.85},{"c":1,"e":141,"v":-7.85},{"c":1,"e":144,"v":-7.85},{"c":1,"e":147,"v":-7.85}
]},
"data": {"name": "loss"},
"mark": {"type": "rect", "binSpacing": 0, "x2Offset": -0.8, "height": {"band": 1.01}},
"encoding": {
  "x": {"field": "e", "type": "quantitative", "bin": {"binned": true, "step": 3},
        "scale": {"domain": [0, 150], "nice": false, "zero": false},
        "axis": {"values": [0, 21.428571, 42.857143, 64.285714, 85.714286, 107.142857, 128.571429, 150],
                 "labelExpr": "floor(datum.value + 0.000001)", "title": "Epochs",
                 "labelFontSize": 85, "labelColor": "#000", "labelPadding": 14, "labelFlush": false, "labelOverlap": false,
                 "tickSize": 13, "tickWidth": 2.5, "tickColor": "#000", "domain": false, "grid": false,
                 "titleFontSize": 94, "titleFontWeight": "normal", "titleColor": "#000", "titlePadding": 20}},
  "y": {"field": "c", "type": "ordinal", "sort": "descending",
        "scale": {"paddingInner": 0, "paddingOuter": 0},
        "axis": {"values": [1, 3, 5, 7, 9, 11, 13, 15, 17, 19], "title": null, "labelAngle": 0,
                 "labelFontSize": 85, "labelColor": "#000", "labelPadding": 14,
                 "tickSize": 15, "tickWidth": 2.5, "tickColor": "#000", "domain": false, "grid": false}},
  "color": {"field": "v", "type": "quantitative",
            "scale": {"domain": [-8, 0], "range": ["#008066", "#ffff66"], "interpolate": "rgb", "clamp": true},
            "legend": {"type": "gradient", "orient": "none", "legendX": 1975, "legendY": 0, "direction": "vertical", "title": null,
                       "padding": 0, "gradientLength": 1848, "gradientThickness": 94,
                       "gradientStrokeColor": "#000", "gradientStrokeWidth": 2.5,
                       "values": [-8, -6, -4, -2, 0],
                       "labelExpr": "datum.value == 0 ? '10⁰' : datum.value == -2 ? '10⁻²' : datum.value == -4 ? '10⁻⁴' : datum.value == -6 ? '10⁻⁶' : '10⁻⁸'",
                       "labelFontSize": 85, "labelColor": "#000", "labelOffset": 37, "labelBaseline": "middle",
                       "labelOverlap": false, "labelLimit": 600,
                       "encode": {"labels": {"update": {"baseline": {"value": "middle"}, "dy": {"value": 7}}}}}}
}
}
